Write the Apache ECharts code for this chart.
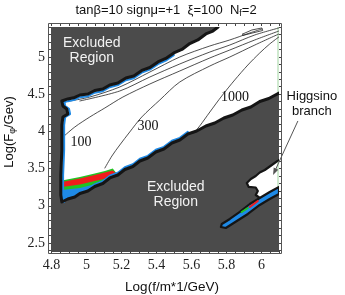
<!DOCTYPE html>
<html><head><meta charset="utf-8">
<script src="https://cdn.jsdelivr.net/npm/echarts@6/dist/echarts.min.js"></script>
<style>html,body{margin:0;padding:0;background:#fff}#c{width:345px;height:295px}</style>
</head><body><div id="c"></div>
<script>
// ---------- axis ranges & tick labels ----------
const X_MIN = 4.797, X_MAX = 6.10, Y_MIN = 2.379, Y_MAX = 5.403;
const xTickLabels = [4.8, 5.0, 5.2, 5.4, 5.6, 5.8, 6.0];
const yTickLabels = [2.5, 3.0, 3.5, 4.0, 4.5, 5.0];

// ---------- allowed-region boundary ----------
const upperBoundary = [[4.859,4.409],[4.893,4.436],[4.933,4.456],[4.962,4.489],[5.008,4.503],[5.047,4.550],[5.093,4.570],[5.133,4.624],[5.179,4.651],[5.225,4.718],[5.270,4.745],[5.316,4.819],[5.362,4.859],[5.408,4.933],[5.453,4.980],[5.499,5.054],[5.545,5.101],[5.590,5.181],[5.636,5.229],[5.682,5.309],[5.722,5.349],[5.752,5.403]];
const leftEdge = [[4.859,4.409],[4.865,4.341],[4.887,4.301],[4.893,4.234],[4.865,4.194],[4.859,4.086],[4.859,3.750],[4.853,3.414],[4.853,3.145],[4.859,3.051]];
const lowerBoundary = [[4.859,3.051],[4.893,3.091],[4.933,3.118],[4.962,3.165],[5.008,3.199],[5.047,3.259],[5.093,3.300],[5.133,3.374],[5.179,3.414],[5.219,3.488],[5.265,3.528],[5.305,3.602],[5.350,3.642],[5.396,3.723],[5.442,3.763],[5.488,3.844],[5.533,3.884],[5.579,3.965],[5.630,4.005],[5.682,4.073],[5.733,4.113],[5.785,4.180],[5.836,4.220],[5.888,4.288],[5.939,4.328],[5.990,4.402],[6.042,4.442],[6.100,4.516]];

// ---------- coloured bands (bottom-left corner) ----------
const bandGreenTop = [[4.859,3.340],[4.962,3.387],[5.047,3.434],[5.105,3.468],[5.150,3.501],[5.179,3.414],[5.133,3.374],[5.093,3.300],[5.047,3.259],[5.008,3.199],[4.962,3.165],[4.933,3.118],[4.893,3.091],[4.859,3.051]];
const bandRed = [[4.859,3.320],[4.962,3.367],[5.047,3.414],[5.105,3.448],[5.150,3.474],[5.179,3.414],[5.133,3.374],[5.093,3.300],[5.047,3.259],[5.008,3.199],[4.962,3.165],[4.933,3.118],[4.893,3.091],[4.859,3.051]];
const bandGreen = [[4.859,3.253],[4.962,3.286],[5.047,3.333],[5.099,3.360],[5.133,3.374],[5.093,3.300],[5.047,3.259],[5.008,3.199],[4.962,3.165],[4.933,3.118],[4.893,3.091],[4.859,3.051]];
const bandBlue = [[4.859,3.212],[4.962,3.239],[5.030,3.280],[5.076,3.313],[5.093,3.300],[5.047,3.259],[5.008,3.199],[4.962,3.165],[4.933,3.118],[4.893,3.091],[4.859,3.051]];

// ---------- contour lines ----------
const contour100 = [[4.859,3.911],[4.933,4.059],[5.019,4.194],[5.105,4.315],[5.208,4.462],[5.362,4.637],[5.533,4.812],[5.705,4.987],[5.819,5.094],[5.962,5.229],[6.099,5.349]];
const contour300 = [[5.105,3.508],[5.145,3.669],[5.190,3.817],[5.247,3.992],[5.316,4.194],[5.419,4.422],[5.533,4.664],[5.705,4.879],[5.819,5.000],[5.962,5.161],[6.099,5.309]];
const contour1000 = [[5.613,3.979],[5.647,4.073],[5.705,4.261],[5.773,4.476],[5.847,4.691],[5.922,4.892],[5.990,5.054],[6.047,5.175],[6.099,5.269]];
const edgeLineA = [[4.906,4.409],[5.019,4.462],[5.190,4.597],[5.362,4.798],[5.533,5.000],[5.705,5.148],[5.819,5.229],[5.933,5.323],[6.002,5.376]];
const edgeLineB = [[4.962,4.409],[5.190,4.543],[5.362,4.731],[5.533,4.906],[5.705,5.067],[5.819,5.161],[5.962,5.296],[6.099,5.390]];
const edgeLoop = [[5.893,5.309],[5.945,5.363],[6.002,5.390],[6.007,5.356],[5.950,5.323],[5.893,5.289],[5.893,5.309]];

// ---------- Higgsino branch ----------
const higgsinoBlob = [[6.100,3.616],[6.059,3.548],[6.019,3.481],[5.990,3.448],[5.967,3.400],[5.939,3.360],[5.916,3.306],[5.927,3.253],[5.967,3.246],[5.979,3.199],[5.967,3.145],[5.990,3.105],[6.047,3.185],[6.100,3.253]];
const higgsinoStrip = [[5.773,2.755],[5.819,2.823],[5.876,2.917],[5.933,3.024],[5.990,3.105],[6.047,3.185],[6.100,3.253],[6.100,3.159],[6.047,3.091],[5.990,3.011],[5.922,2.890],[5.859,2.796],[5.796,2.702],[5.768,2.715]];
const higgsinoRed = [[5.933,2.984],[5.979,3.065]];
const higgsinoGreen = [[5.887,2.917],[5.922,2.970]];

// ---------- annotations (data positions) ----------
const regionLabelPos = [[5.030,5.087],[5.510,3.152]];
const contourLevels = ['100','300','1000'];
const contourLabelPos = [[4.968,3.858],[5.351,4.073],[5.848,4.462]];
const higgsinoLabelPos = [6.288,4.375];
const arrowFrom = [6.208,4.140], arrowTo = [6.066,3.414];

// ---------- styling ----------
const SANS = '"Liberation Sans", Arial, sans-serif';
const SERIF = '"Liberation Serif", "Times New Roman", serif';
const DARK = '#4b4b4b', BLUE = '#1f8ae6', RED = '#f01c1c', GREEN = '#22c322', INK = '#151515';

function minorTicks(lo, hi, step) { const a = []; for (let v = lo; v <= hi + 1e-9; v += step) a.push(+v.toFixed(3)); return a; }
const xMinor = minorTicks(4.80, 6.10, 0.05);
const yMinor = minorTicks(2.40, 5.40, 0.1);

function shapeSeries(kind, pts, style, z, extra) {
  return {
    type: 'custom', coordinateSystem: 'cartesian2d', xAxisIndex: 0, yAxisIndex: 0,
    silent: true, z: z, clip: true, animation: false,
    data: [pts[0]], encode: { x: 0, y: 1 },
    renderItem: (params, api) => Object.assign({
      type: kind,
      shape: Object.assign({ points: pts.map(p => api.coord(p)) }, (extra && extra.shape) || {}),
      style: style
    }, (extra && extra.el) || {})
  };
}
const line = (pts, color, w, z, extra) => shapeSeries('polyline', pts, { stroke: color, lineWidth: w, fill: 'none', lineJoin: 'round', lineCap: 'round' }, z, extra);
const poly = (pts, fill, z, stroke, w) => shapeSeries('polygon', pts, { fill: fill, stroke: stroke || 'none', lineWidth: w || 0, lineJoin: 'round' }, z);

const outline = upperBoundary.slice().reverse().concat(leftEdge.slice(1), lowerBoundary.slice(1));
const whiteRegion = leftEdge.concat(lowerBoundary.slice(1), [[X_MAX, Y_MAX]], upperBoundary.slice().reverse());

const axisCommon = {
  type: 'value', axisLine: { show: false }, splitLine: { show: false },
  axisTick: { show: true, inside: true, length: 3, lineStyle: { color: '#444', width: 1 } }
};
const chart = echarts.init(document.getElementById('c'), null, { renderer: 'canvas' });
chart.setOption({
  animation: false,
  backgroundColor: '#fff',
  grid: { left: 51, top: 27, width: 228, height: 225, show: true, backgroundColor: DARK, borderWidth: 0 },
  xAxis: [
    Object.assign({}, axisCommon, { position: 'bottom', min: X_MIN, max: X_MAX, offset: 2,
      axisTick: Object.assign({}, axisCommon.axisTick, { customValues: xMinor }),
      axisLabel: { customValues: xTickLabels, formatter: v => String(+(+v).toFixed(2)), margin: 4,
        fontFamily: SERIF, fontSize: 14, color: '#222' } }),
    Object.assign({}, axisCommon, { position: 'top', min: X_MIN, max: X_MAX, offset: 4,
      axisTick: Object.assign({}, axisCommon.axisTick, { customValues: xMinor }),
      axisLabel: { show: false } })
  ],
  yAxis: [
    Object.assign({}, axisCommon, { position: 'left', min: Y_MIN, max: Y_MAX, offset: 3,
      axisTick: Object.assign({}, axisCommon.axisTick, { customValues: yMinor }),
      axisLabel: { customValues: yTickLabels, formatter: v => String(+(+v).toFixed(2)), margin: 3,
        fontFamily: SERIF, fontSize: 14, color: '#222' } }),
    Object.assign({}, axisCommon, { position: 'right', min: Y_MIN, max: Y_MAX, offset: 3,
      axisTick: Object.assign({}, axisCommon.axisTick, { customValues: yMinor }),
      axisLabel: { show: false } })
  ],
  series: [
    poly(whiteRegion, '#ffffff', 1),
    poly(higgsinoBlob, '#ffffff', 1),
    line([[X_MAX, 4.516], [X_MAX, Y_MAX]], '#9fd49f', 1, 2, { el: { x: -1 } }),
    line([[X_MAX, 3.253], [X_MAX, 3.616]], '#9fd49f', 1, 2, { el: { x: -1 } }),
    poly(bandGreenTop, GREEN, 3),
    poly(bandRed, RED, 3),
    poly(bandGreen, GREEN, 3),
    poly(bandBlue, BLUE, 3),
    line(contour100, '#222', 0.8, 4, { shape: { smooth: 0.3 } }),
    line(contour300, '#222', 0.8, 4, { shape: { smooth: 0.3 } }),
    line(contour1000, '#222', 0.8, 4, { shape: { smooth: 0.3 } }),
    line(edgeLineA, '#222', 0.8, 4, { shape: { smooth: 0.3 } }),
    line(edgeLineB, '#222', 0.8, 4, { shape: { smooth: 0.3 } }),
    line(edgeLoop, '#222', 0.8, 4),
    line(upperBoundary.slice(0, 16), BLUE, 2, 5, { el: { y: 2.2 } }),
    line(leftEdge, BLUE, 2.2, 5, { el: { x: 2.2 } }),
    line(lowerBoundary.filter(p => p[0] <= 5.58), BLUE, 2, 5, { el: { y: -2.2 } }),
    line(outline, INK, 3, 6),
    line(higgsinoBlob.slice(0, 12), INK, 2.2, 6),
    poly(higgsinoStrip, BLUE, 7, INK, 2.2),
    line(higgsinoRed, RED, 2, 8),
    line(higgsinoGreen, GREEN, 2, 8, { el: {} })
  ]
});

// ---------- annotations ----------
const toPx = p => chart.convertToPixel({ xAxisIndex: 0, yAxisIndex: 0 }, p);
const g = [];
g.push({ type: 'rect', shape: { x: 48.5, y: 23.5, width: 233, height: 230 }, style: { fill: 'none', stroke: '#555', lineWidth: 1 }, z: 10 });
regionLabelPos.forEach(p => {
  const q = toPx(p);
  g.push({ type: 'text', x: q[0], y: q[1], z: 20, style: { text: 'Excluded\nRegion', fill: '#f2f2f2', fontFamily: SANS, fontSize: 14, lineHeight: 15, align: 'center', verticalAlign: 'middle' } });
});
contourLevels.forEach((t, i) => {
  const q = toPx(contourLabelPos[i]);
  g.push({ type: 'text', x: q[0], y: q[1], z: 20, style: { text: t, fill: '#111', fontFamily: SERIF, fontSize: 14, align: 'center', verticalAlign: 'middle' } });
});
{
  const q = toPx(higgsinoLabelPos);
  g.push({ type: 'text', x: q[0], y: q[1], z: 20, style: { text: 'Higgsino\nbranch', fill: '#111', fontFamily: SANS, fontSize: 13, lineHeight: 15, align: 'center', verticalAlign: 'middle' } });
  const a = toPx(arrowFrom), b = toPx(arrowTo);
  const dx = b[0] - a[0], dy = b[1] - a[1], L = Math.hypot(dx, dy), ux = dx / L, uy = dy / L;
  const hl = 7, hw = 2.5;
  g.push({ type: 'line', z: 20, shape: { x1: a[0], y1: a[1], x2: b[0] - ux * 3, y2: b[1] - uy * 3 }, style: { stroke: '#555', lineWidth: 1 } });
  g.push({ type: 'polygon', z: 20, shape: { points: [b, [b[0] - ux * hl - uy * hw, b[1] - uy * hl + ux * hw], [b[0] - ux * hl + uy * hw, b[1] - uy * hl - ux * hw]] }, style: { fill: '#555' } });
}
g.push({ type: 'text', x: 166, y: 10, z: 20, style: {
  text: '{a|tanβ=10 signμ=+1  ξ=100  N}{s|f}{a|=2}', align: 'center', verticalAlign: 'middle',
  rich: { a: { fontFamily: SANS, fontSize: 13, lineHeight: 17, fill: '#111', verticalAlign: 'middle' },
          s: { fontFamily: SANS, fontSize: 9, fill: '#111', verticalAlign: 'bottom' } } } });
g.push({ type: 'text', x: 172, y: 287, z: 20, style: { text: 'Log(f/m*1/GeV)', fill: '#111', fontFamily: SANS, fontSize: 13.5, align: 'center', verticalAlign: 'middle' } });
g.push({ type: 'text', x: 9, y: 132, rotation: Math.PI / 2, z: 20, style: {
  text: '{a|Log(F}{s|φ}{a|/Gev)}', align: 'center', verticalAlign: 'middle',
  rich: { a: { fontFamily: SANS, fontSize: 13, lineHeight: 17, fill: '#111', verticalAlign: 'middle' },
          s: { fontFamily: SANS, fontSize: 9, fill: '#111', verticalAlign: 'bottom' } } } });
chart.setOption({ graphic: g });
</script></body></html>
